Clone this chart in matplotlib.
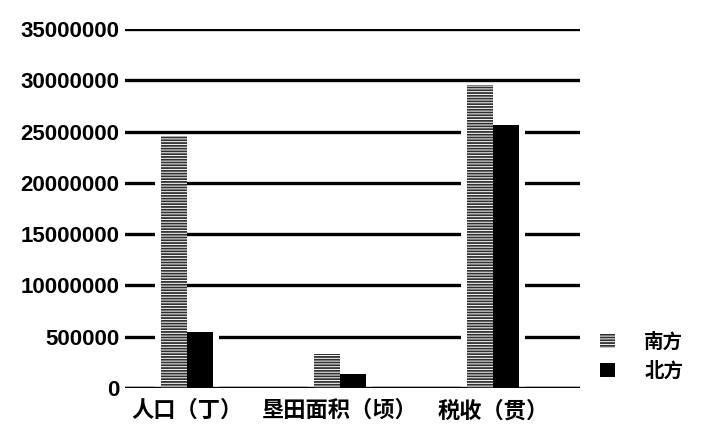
import numpy as np
import matplotlib.pyplot as plt

plt.rcParams['font.family'] = ['Noto Sans CJK SC', 'DejaVu Sans']
plt.rcParams['hatch.linewidth'] = 1.3

categories = ["人口（丁）", "垦田面积（顷）", "税收（贯）"]
south = [24600000, 3300000, 29500000]
north = [5500000, 1400000, 25600000]
yticks = [0, 5000000, 10000000, 15000000, 20000000, 25000000, 30000000, 35000000]
ytick_labels = ["0", "500000", "10000000", "15000000", "20000000",
                "25000000", "30000000", "35000000"]

fig = plt.figure(figsize=(7.09, 4.41), dpi=100)
ax = fig.add_axes([125 / 709, 1 - 388 / 441, (580 - 125) / 709, (388 - 29) / 441])

x = np.arange(len(categories))
w = 0.17
g = 0.04

# gridlines (the picture has no vertical spine)
for t in yticks:
    ax.axhline(t, color="black", lw=2.4, zorder=1)

# white strips beside the bars, gives the gaps in the grid lines
ax.bar(x - w / 2 - g / 2, south, w + g, color="white", lw=0, zorder=2)
ax.bar(x + w / 2 + g / 2, north, w + g, color="white", lw=0, zorder=2)
ax.axhline(0, color="black", lw=2.4, zorder=2.5)

ax.bar(x - w / 2, south, w, color="white", edgecolor="#303030", lw=0,
       hatch="------", zorder=3, label="南方")
ax.bar(x + w / 2, north, w, color="black", edgecolor="black", lw=0,
       zorder=3, label="北方")

ax.set_xlim(-0.405, 2.57)
ax.set_ylim(0, 35000000)
for s in ax.spines.values():
    s.set_visible(False)

ax.set_yticks(yticks)
ax.set_yticklabels(ytick_labels, fontsize=16, fontweight="bold",
                   family="Liberation Sans")
ax.tick_params(axis="y", length=0, pad=4)
ax.set_xticks(x)
ax.set_xticklabels(categories, fontsize=16, fontweight="bold")
ax.tick_params(axis="x", length=0, pad=8)

leg = fig.legend(loc="upper left", bbox_to_anchor=(582 / 709, 1 - 315 / 441),
                 frameon=False, prop={"size": 14, "weight": "bold"},
                 handlelength=0.8, handleheight=0.8,
                 handletextpad=1.5, labelspacing=0.5)

fig.savefig("out.png", dpi=100)
